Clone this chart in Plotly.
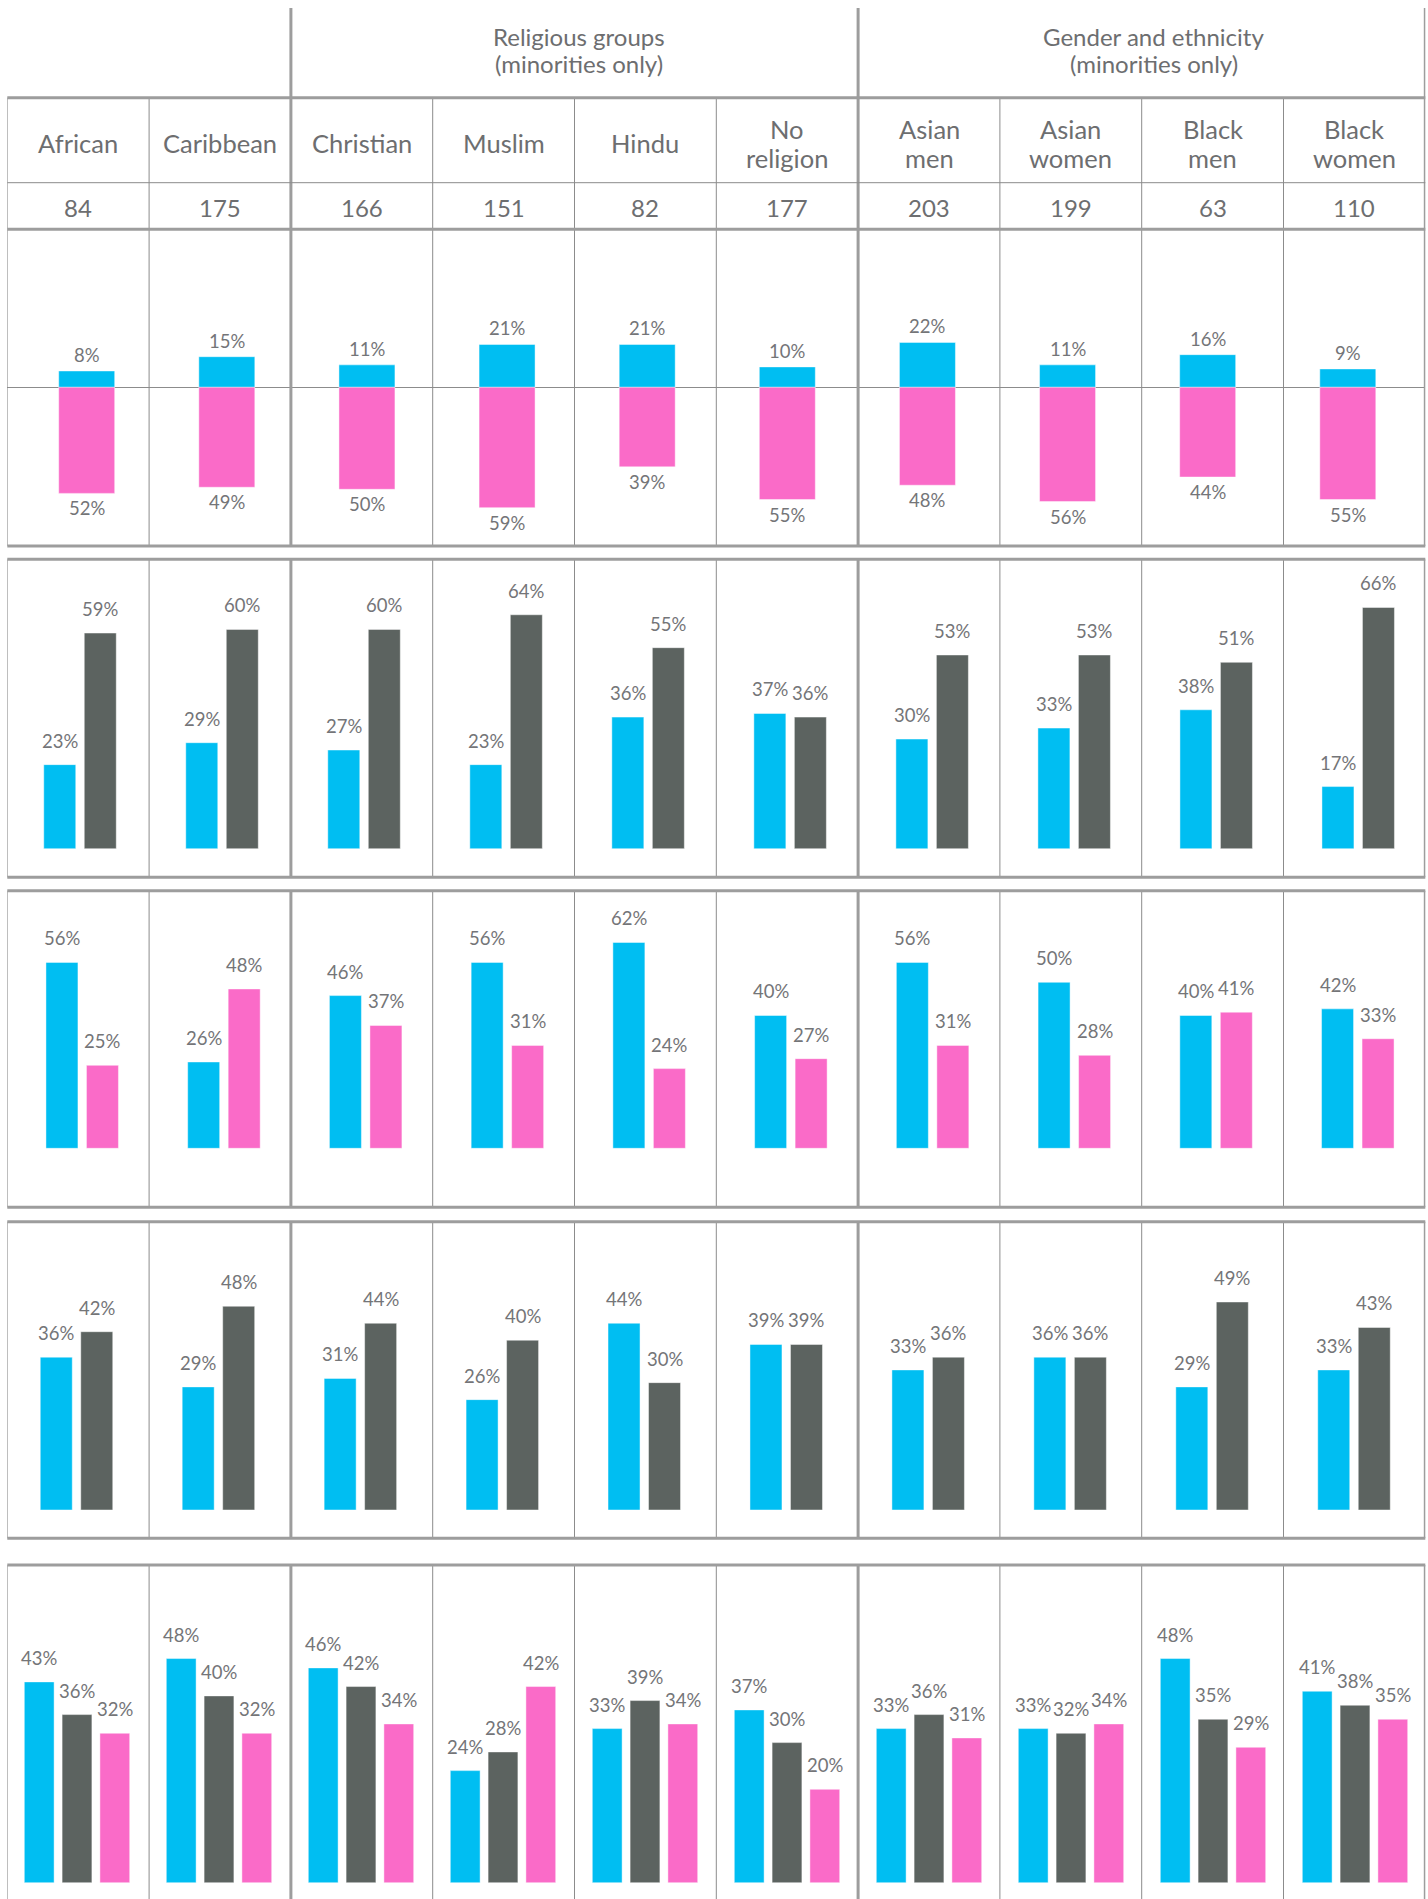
import plotly.graph_objects as go

# ---------------- data ----------------
categories = ["African", "Caribbean", "Christian", "Muslim", "Hindu",
              "No religion", "Asian men", "Asian women", "Black men", "Black women"]
sample_sizes = [84, 175, 166, 151, 82, 177, 203, 199, 63, 110]

group_title_lines = [[], ["Religious groups", "(minorities only)"],
                     ["Gender and ethnicity", "(minorities only)"]]
group_spans = [2, 4, 4]

p1_blue = [8, 15, 11, 21, 21, 10, 22, 11, 16, 9]
p1_pink = [52, 49, 50, 59, 39, 55, 48, 56, 44, 55]

p2_blue = [23, 29, 27, 23, 36, 37, 30, 33, 38, 17]
p2_dark = [59, 60, 60, 64, 55, 36, 53, 53, 51, 66]

p3_blue = [56, 26, 46, 56, 62, 40, 56, 50, 40, 42]
p3_pink = [25, 48, 37, 31, 24, 27, 31, 28, 41, 33]

p4_blue = [36, 29, 31, 26, 44, 39, 33, 36, 29, 33]
p4_dark = [42, 48, 44, 40, 30, 39, 36, 36, 49, 43]

p5_blue = [43, 48, 46, 24, 33, 37, 33, 33, 48, 41]
p5_dark = [36, 40, 42, 28, 39, 30, 36, 32, 35, 38]
p5_pink = [32, 32, 34, 42, 34, 20, 31, 34, 29, 35]

# ---------------- styles / layout constants ----------------
W, H = 1428, 1899
L, R = 7.3, 1425.3
NC = len(categories)
BLUE = "#00BEF2"
PINK = "#FA6BC8"
DARK = "#5C6360"
TXT = "#6d6e70"
LBL_TXT = "#747578"
THICK_C, THICK_W = "#9d9d9d", 3
THIN_C, THIN_W = "#8c8c8c", 1
FONT = "Lato, 'Open Sans', sans-serif"
LABEL_SIZE = 18.5
NAME_SIZE = 25.5
COUNT_SIZE = 24
GROUP_SIZE = 24
GROUP_XSHIFT = [0, 4, 12]


def py(p):
    return 1 - p / H


# panel geometry in pixels
panels = [
    dict(top=229.3, bottom=546.0, base=387.3, scale=2.04, c0=86.7, c9=1347.8,
         bw=56, gap=0, diverging=True,
         series=[(p1_blue, BLUE, 1), (p1_pink, PINK, -1)], lgap=3),
    dict(top=559.3, bottom=877.3, base=848.7, scale=3.655, c0=80.0, c9=1358.2,
         bw=32, gap=8.5, diverging=False,
         series=[(p2_blue, BLUE, 1), (p2_dark, DARK, 1)], lgap=11),
    dict(top=890.7, bottom=1207.3, base=1148.3, scale=3.32, c0=82.2, c9=1357.8,
         bw=32, gap=8.5, diverging=False,
         series=[(p3_blue, BLUE, 1), (p3_pink, PINK, 1)], lgap=11),
    dict(top=1221.7, bottom=1538.3, base=1510.0, scale=4.245, c0=76.5, c9=1354.0,
         bw=32, gap=8.5, diverging=False,
         series=[(p4_blue, BLUE, 1), (p4_dark, DARK, 1)], lgap=11),
    dict(top=1565.0, bottom=1899.0, base=1882.7, scale=4.67, c0=77.0, c9=1355.0,
         bw=29.8, gap=8, diverging=False,
         series=[(p5_blue, BLUE, 1), (p5_dark, DARK, 1), (p5_pink, PINK, 1)], lgap=11,
         no_bottom=True),
]

fig = go.Figure()
layout = dict(
    width=W, height=H, margin=dict(l=0, r=0, t=0, b=0, pad=0),
    paper_bgcolor="white", plot_bgcolor="rgba(0,0,0,0)",
    showlegend=False, barmode="overlay",
    font=dict(family=FONT, color=TXT),
    xaxis=dict(domain=[L / W, R / W], range=[-0.5, NC - 0.5], visible=False, fixedrange=True),
    yaxis=dict(domain=[0, 1], range=[0, 1], visible=False, fixedrange=True),
)

annotations = []
shapes = []

# invisible trace so the header axis exists
fig.add_trace(go.Scatter(x=[0], y=[0], mode="markers", marker=dict(opacity=0),
                         hoverinfo="skip", xaxis="x", yaxis="y"))

for pi, p in enumerate(panels):
    k = pi + 2
    xa, ya = f"x{k}", f"y{k}"
    ppu = (p["c9"] - p["c0"]) / (NC - 1)
    a = -(p["c0"] - L) / ppu
    b = a + (R - L) / ppu
    layout[f"xaxis{k}"] = dict(domain=[L / W, R / W], range=[a, b], visible=False,
                               fixedrange=True, anchor=ya)
    ylo = -(p["bottom"] - p["base"]) / p["scale"]
    yhi = (p["base"] - p["top"]) / p["scale"]
    layout[f"yaxis{k}"] = dict(domain=[max(0, py(p["bottom"])), py(p["top"])],
                               range=[ylo, yhi], fixedrange=True, anchor=xa,
                               showgrid=False, showticklabels=False, ticks="",
                               showline=False,
                               zeroline=p["diverging"], zerolinecolor=THIN_C,
                               zerolinewidth=1)
    n = 1 if p["diverging"] else len(p["series"])
    wu = p["bw"] / ppu
    for j, (vals, col, sign) in enumerate(p["series"]):
        jj = 0 if p["diverging"] else j
        cu = (jj - (n - 1) / 2) * (p["bw"] + p["gap"]) / ppu
        yv = [sign * v for v in vals]
        fig.add_trace(go.Bar(
            x=list(range(NC)), y=yv, width=wu, offset=cu - wu / 2,
            marker=dict(color=col, line=dict(color="rgba(255,255,255,0.45)", width=1)),
            xaxis=xa, yaxis=ya, hoverinfo="skip",
        ))
        for i, v in enumerate(vals):
            annotations.append(dict(
                xref=xa, yref=ya, x=i + cu, y=sign * v, text=f"{v}%",
                showarrow=False, xanchor="center",
                yanchor="bottom" if sign > 0 else "top",
                yshift=p["lgap"] if sign > 0 else -2,
                font=dict(size=LABEL_SIZE, color=LBL_TXT, family=FONT),
            ))

# ---------------- header texts ----------------
for i, name in enumerate(categories):
    parts = name.split(" ", 1)
    ys = [143.0] if len(parts) == 1 else [129.0, 158.0]
    for t, yy in zip(parts, ys):
        annotations.append(dict(xref="x", yref="paper", x=i, y=py(yy), text=t,
                                showarrow=False, xanchor="center", yanchor="middle",
                                font=dict(size=NAME_SIZE, color=TXT, family=FONT)))
for i, nval in enumerate(sample_sizes):
    annotations.append(dict(xref="x", yref="paper", x=i, y=py(207.0), text=str(nval),
                            showarrow=False, xanchor="center", yanchor="middle",
                            font=dict(size=COUNT_SIZE, color=TXT, family=FONT)))
start = 0
bounds = []
for gi, (lines, span) in enumerate(zip(group_title_lines, group_spans)):
    cx = start + (span - 1) / 2
    for t, yy in zip(lines, [37.0, 63.5]):
        annotations.append(dict(xref="x", yref="paper", x=cx, y=py(yy), text=t,
                                showarrow=False, xanchor="center", yanchor="middle",
                                xshift=GROUP_XSHIFT[gi],
                                font=dict(size=GROUP_SIZE, color=TXT, family=FONT)))
    start += span
    bounds.append(start)
thick_bounds = set(bounds)

# ---------------- grid lines ----------------


def vline(k, y0, y1):
    thick = k in thick_bounds
    shapes.append(dict(type="line", xref="x", yref="paper", x0=k - 0.5, x1=k - 0.5,
                       y0=py(y0), y1=py(y1), layer="above",
                       line=dict(color=THICK_C if thick else THIN_C,
                                 width=THICK_W if thick else THIN_W)))


def hline(y, thick):
    shapes.append(dict(type="line", xref="x", yref="paper", x0=-0.5 - 0.01, x1=NC - 0.5 + 0.01,
                       y0=py(y), y1=py(y), layer="above",
                       line=dict(color=THICK_C if thick else THIN_C,
                                 width=THICK_W if thick else THIN_W)))


# header top area: only group separators
for k in sorted(thick_bounds):
    vline(k, 8.0, 97.7)
# names + counts rows
for k in range(NC + 1):
    vline(k, 97.7, 229.3)
hline(97.7, True)
hline(182.7, False)
for p in panels:
    for k in range(NC + 1):
        vline(k, p["top"], p["bottom"])
    hline(p["top"], True)
    if not p.get("no_bottom"):
        hline(p["bottom"], True)

layout["annotations"] = annotations
layout["shapes"] = shapes
fig.update_layout(**layout)

fig.write_html("out.html", config={"displayModeBar": False},
               post_script="document.body.style.margin='0px';")
